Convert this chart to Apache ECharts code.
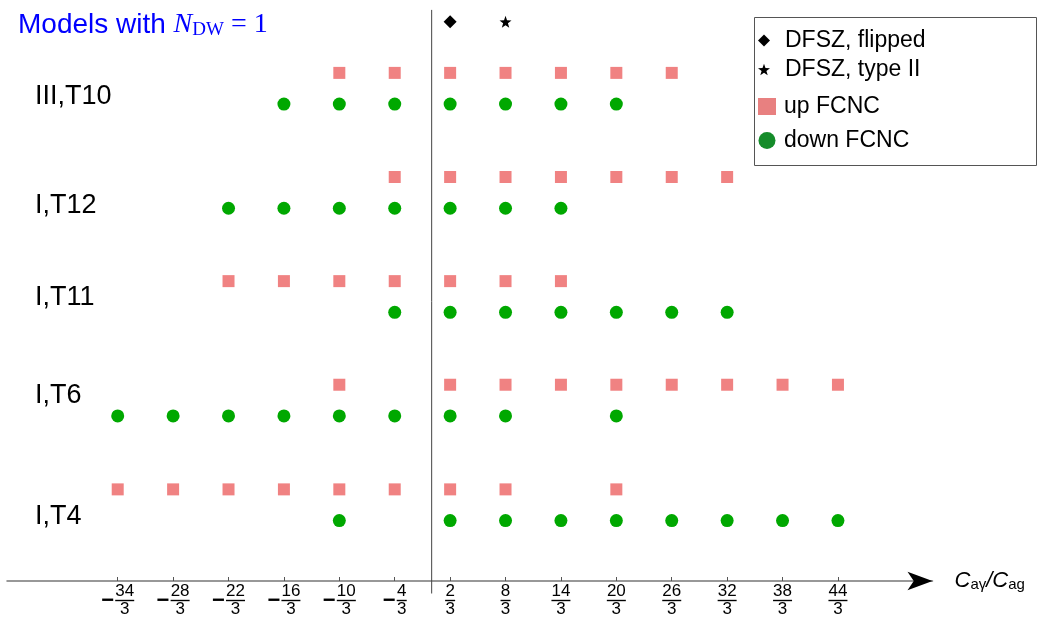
<!DOCTYPE html>
<html>
<head>
<meta charset="utf-8">
<script src="https://cdn.jsdelivr.net/npm/echarts@6/dist/echarts.min.js"></script>
<style>
  html, body { margin: 0; padding: 0; background: #fff; }
  #main { width: 1038px; height: 619px; }
</style>
</head>
<body>
<div id="main"></div>
<script>
// 横轴刻度（分子，分母都是3）
const tickNums = [-34, -28, -22, -16, -10, -4, 2, 8, 14, 20, 26, 32, 38, 44]
// 各模型行的纵向位置
const models = ['III,T10', 'I,T12', 'I,T11', 'I,T6', 'I,T4']
const rowDown = [45.8, 35.8, 25.8, 15.85, 5.8]
const rowUp = [48.8, 38.8, 28.8, 18.85, 8.8]
const labelY = [46.5, 36.1, 27.2, 17.8, 6.15]
// up FCNC（分子 / 3）
const upNums = [
  [-10, -4, 2, 8, 14, 20, 26],
  [-4, 2, 8, 14, 20, 26, 32],
  [-22, -16, -10, -4, 2, 8, 14],
  [-10, 2, 8, 14, 20, 26, 32, 38, 44],
  [-34, -28, -22, -16, -10, -4, 2, 8, 20]
]
// down FCNC（分子 / 3）
const downNums = [
  [-16, -10, -4, 2, 8, 14, 20],
  [-22, -16, -10, -4, 2, 8, 14],
  [-4, 2, 8, 14, 20, 26, 32],
  [-34, -28, -22, -16, -10, -4, 2, 8, 20],
  [-10, 2, 8, 14, 20, 26, 32, 38, 44]
]
// DFSZ 两个点
const dfszFlipped = [[2, 53.7]]
const dfszTypeII = [[8, 53.7]]

const star = 'path://M0,-10 L2.35,-3.24 L9.51,-3.09 L3.8,1.24 L5.88,8.09 L0,4 L-5.88,8.09 L-3.8,1.24 L-9.51,-3.09 L-2.35,-3.24Z'
const font = "'Liberation Sans', Arial, Helvetica, sans-serif"
const serif = "'Liberation Serif', 'Times New Roman', serif"

// 组装坐标点
const upData = []
const downData = []
models.forEach((m, i) => {
  upNums[i].forEach(n => upData.push([n / 3, rowUp[i]]))
  downNums[i].forEach(n => downData.push([n / 3, rowDown[i]]))
})
const tickValues = tickNums.map(n => n / 3)

const option = {
  animation: false,
  title: {
    left: 13,
    top: 4,
    text: '{a|Models with }{n|N}{s|DW}{e| = 1}',
    textStyle: {
      fontWeight: 'normal',
      rich: {
        a: { fontFamily: font, fontSize: 28, fontWeight: 'normal', color: '#0000ff', lineHeight: 32 },
        n: { fontFamily: serif, fontStyle: 'italic', fontWeight: 'normal', fontSize: 28, color: '#0000ff', lineHeight: 32 },
        s: { fontFamily: serif, fontSize: 19, fontWeight: 'normal', color: '#0000ff', lineHeight: 32, padding: [10, 0, 0, 0] },
        e: { fontFamily: serif, fontSize: 28, fontWeight: 'normal', color: '#0000ff', lineHeight: 32 }
      }
    }
  },
  legend: [
    {
      orient: 'vertical',
      left: 753,
      top: 24,
      itemWidth: 12,
      itemHeight: 12,
      itemGap: 6,
      textStyle: { fontFamily: font, fontSize: 23, color: '#000', padding: [0, 0, 0, 10] },
      data: [
        { name: 'DFSZ, flipped', icon: 'diamond' },
        { name: 'DFSZ, type II', icon: star }
      ]
    },
    {
      orient: 'vertical',
      left: 753,
      top: 90,
      itemWidth: 18,
      itemHeight: 17,
      itemGap: 11,
      textStyle: { fontFamily: font, fontSize: 23, color: '#000', padding: [0, 0, 0, 3] },
      data: [
        { name: 'up FCNC', icon: 'rect', itemStyle: { color: '#e88080' } },
        { name: 'down FCNC', icon: 'circle', itemStyle: { color: '#158c2a' } }
      ]
    }
  ],
  graphic: [
    {
      type: 'rect',
      left: 752,
      top: 15,
      shape: { width: 282, height: 148 },
      style: { fill: 'none', stroke: '#555', lineWidth: 1 },
      silent: true
    }
  ],
  grid: { left: 7, right: 105.5, top: 0, bottom: 38 },
  xAxis: [
    {
      type: 'value',
      min: -15.33,
      max: 18.08,
      splitLine: { show: false },
      axisLine: {
        lineStyle: { color: '#777', width: 1.5 }
      },
      axisTick: {
        inside: true,
        length: 4,
        customValues: tickValues,
        lineStyle: { color: '#555' }
      },
      axisLabel: {
        customValues: tickValues,
        margin: 3,
        formatter: function (v) {
          const n = Math.round(v * 3)
          const a = Math.abs(n)
          const w = a >= 10 ? '2' : '1'
          if (n < 0) {
            return '{sp|}{num' + w + '|' + a + '}\n{mi|−}{bar' + w + '| }\n{sp|}{num' + w + '|3}'
          }
          return '{num' + w + '|' + a + '}\n{bar' + w + '| }\n{num' + w + '|3}'
        },
        rich: {
          num1: { fontFamily: font, fontSize: 17, color: '#000', width: 10, align: 'center', lineHeight: 15 },
          num2: { fontFamily: font, fontSize: 17, color: '#000', width: 19, align: 'center', lineHeight: 15 },
          bar1: { width: 10, height: 1.4, lineHeight: 3, fontSize: 1, backgroundColor: '#000' },
          bar2: { width: 19, height: 1.4, lineHeight: 3, fontSize: 1, backgroundColor: '#000' },
          mi: { fontFamily: font, fontSize: 22, fontWeight: 'bold', color: '#000', width: 14, align: 'left', lineHeight: 3 },
          sp: { width: 14, lineHeight: 15 }
        }
      },
      name: '{c|C}{s|aγ}{c|/C}{s|ag}',
      nameLocation: 'end',
      nameGap: 22,
      nameTextStyle: {
        rich: {
          c: { fontFamily: font, fontStyle: 'italic', fontSize: 22, color: '#000', lineHeight: 26 },
          s: { fontFamily: font, fontSize: 15, color: '#000', lineHeight: 26, padding: [8, 0, 0, 0] }
        }
      }
    },
    {
      // 只用来画黑色箭头
      type: 'value',
      min: -15.33,
      max: 18.08,
      position: 'bottom',
      splitLine: { show: false },
      axisTick: { show: false },
      axisLabel: { show: false },
      axisLine: {
        onZero: true,
        symbol: ['none', 'arrow'],
        symbolSize: [14, 25],
        lineStyle: { color: '#000', width: 0.01 }
      }
    }
  ],
  yAxis: {
    type: 'value',
    show: false,
    min: 0,
    max: 55.8
  },
  series: [
    {
      // 竖直线 x = 0
      type: 'line',
      data: [[0, -1.2], [0, 54.85]],
      symbol: 'none',
      clip: false,
      silent: true,
      lineStyle: { color: '#444', width: 1 }
    },
    {
      // 模型名称
      type: 'scatter',
      symbolSize: 0,
      silent: true,
      data: models.map((m, i) => [-14.32, labelY[i], m]),
      itemStyle: { opacity: 1 },
      label: {
        show: true,
        position: 'inside',
        align: 'left',
        formatter: p => p.data[2],
        fontFamily: font,
        fontSize: 27,
        color: '#000'
      }
    },
    {
      name: 'DFSZ, flipped',
      type: 'scatter',
      symbol: 'diamond',
      symbolSize: 13,
      itemStyle: { color: '#000', opacity: 1 },
      data: dfszFlipped.map(d => [d[0] / 3, d[1]])
    },
    {
      name: 'DFSZ, type II',
      type: 'scatter',
      symbol: star,
      symbolSize: 12,
      itemStyle: { color: '#000', opacity: 1 },
      data: dfszTypeII.map(d => [d[0] / 3, d[1]])
    },
    {
      name: 'up FCNC',
      type: 'scatter',
      symbol: 'rect',
      symbolSize: 12,
      itemStyle: { color: '#f08282', opacity: 1 },
      data: upData
    },
    {
      name: 'down FCNC',
      type: 'scatter',
      symbol: 'circle',
      symbolSize: 13,
      itemStyle: { color: '#00a800', opacity: 1 },
      data: downData
    }
  ]
}

const chart = echarts.init(document.getElementById('main'))
chart.setOption(option)
window.addEventListener('resize', chart.resize)
</script>
</body>
</html>
